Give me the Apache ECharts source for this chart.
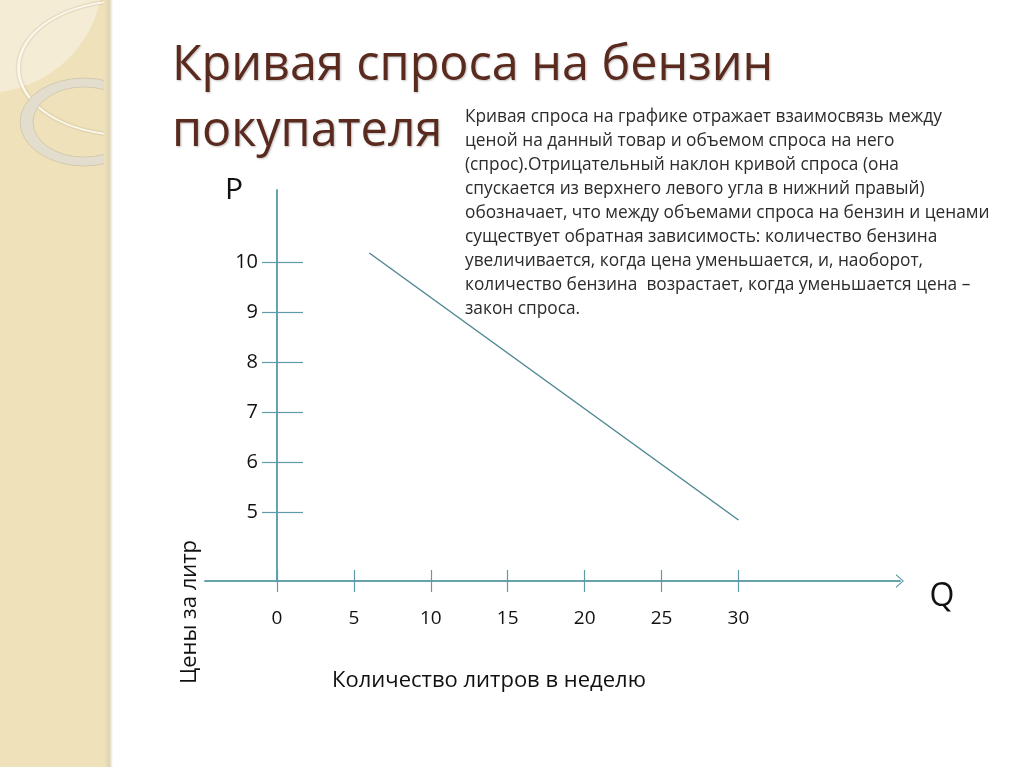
<!DOCTYPE html>
<html><head><meta charset="utf-8">
<script src="https://cdn.jsdelivr.net/npm/echarts@6/dist/echarts.min.js"></script>
<style>html,body{margin:0;padding:0;background:#fff}#c{width:1024px;height:767px}</style>
</head><body><div id="c"></div>
<script>
// ---- data ----
const qTicks = [0, 5, 10, 15, 20, 25, 30];          // quantity tick labels
const pTicks = [5, 6, 7, 8, 9, 10];                 // price tick labels
const demandQ = [6, 30];                            // demand curve, quantity
const demandP = [10.18, 4.84];                      // demand curve, price
const titleText = 'Кривая спроса на бензин\nпокупателя';
const paraLines = [
  'Кривая спроса на графике отражает взаимосвязь между',
  'ценой на данный товар и объемом спроса на него',
  '(спрос).Отрицательный наклон кривой спроса (она',
  'спускается из верхнего левого угла в нижний правый)',
  'обозначает, что между объемами спроса на бензин и ценами',
  'существует обратная зависимость: количество бензина',
  'увеличивается, когда цена уменьшается, и, наоборот,',
  'количество бензина  возрастает, когда уменьшается цена –',
  'закон спроса.'
];
const yName = 'Цены за литр';
const xName = 'Количество литров в неделю';

// ---- chart ----
const axisColor = '#5d9ca8';
const font = '"Open Sans", "Noto Sans", sans-serif';
const chevron = 'path://M0,8 L7,0 L14,8 L12.6,8 L7,1.6 L1.4,8 Z';
const chart = echarts.init(document.getElementById('c'));
const xCommon = { type: 'value', min: -4.68, max: 40.5, position: 'bottom', splitLine: { show: false } };
const yCommon = { type: 'value', min: 3.62, max: 11.44, position: 'left', offset: -72, splitLine: { show: false } };

chart.setOption({
  backgroundColor: '#ffffff',
  animation: false,
  grid: { left: 205, right: 124, top: 190, bottom: 186 },
  title: {
    text: titleText, left: 167, top: 28,
    textStyle: { fontFamily: font, fontSize: 48.5, fontWeight: 'normal', color: '#5a2a1f', lineHeight: 66,
      textShadowColor: 'rgba(0,0,0,0.25)', textShadowBlur: 2, textShadowOffsetX: 1, textShadowOffsetY: 1 }
  },
  xAxis: [
    Object.assign({}, xCommon, {
      axisLine: { show: true, onZero: false, lineStyle: { color: axisColor, width: 1.5 }, symbol: ['none', chevron], symbolSize: [14, 9] },
      axisTick: { show: true, customValues: qTicks, inside: false, length: 11, lineStyle: { color: axisColor, width: 1.2 } },
      axisLabel: { show: true, customValues: qTicks, margin: 28, fontFamily: font, fontSize: 19, color: '#111' }
    }),
    Object.assign({}, xCommon, {
      axisLine: { show: true, onZero: false, lineStyle: { color: axisColor, width: 1.5 } },
      axisTick: { show: true, customValues: qTicks, inside: true, length: 11, lineStyle: { color: axisColor, width: 1.2 } },
      axisLabel: { show: false }
    })
  ],
  yAxis: [
    Object.assign({}, yCommon, {
      name: 'P', nameLocation: 'end', nameGap: 0,
      nameTextStyle: { fontFamily: font, fontSize: 30, color: '#111', align: 'right', verticalAlign: 'middle', padding: [0, 34, 0, 0] },
      axisLine: { show: true, onZero: false, lineStyle: { color: axisColor, width: 1.5 } },
      axisTick: { show: true, customValues: pTicks, inside: false, length: 15, lineStyle: { color: axisColor, width: 1.2 } },
      axisLabel: { show: true, customValues: pTicks, margin: 19, fontFamily: font, fontSize: 20, color: '#111' }
    }),
    Object.assign({}, yCommon, {
      axisLine: { show: true, onZero: false, lineStyle: { color: axisColor, width: 1.5 } },
      axisTick: { show: true, customValues: pTicks, inside: true, length: 26, lineStyle: { color: axisColor, width: 1.2 } },
      axisLabel: { show: false }
    })
  ],
  series: [{
    type: 'line', xAxisIndex: 0, yAxisIndex: 0,
    data: demandQ.map((q, i) => [q, demandP[i]]),
    showSymbol: false, symbol: 'none',
    lineStyle: { color: '#4f8893', width: 1.5 }
  }],
  graphic: [
    { type: 'rect', z: -100, shape: { x: 0, y: 0, width: 110, height: 767 }, style: { fill: '#efe2ba' } },
    { type: 'circle', z: -100, shape: { cx: -15, cy: -25, r: 118 }, style: { fill: '#f4ecd5' } },
    { type: 'ring', z: -100, x: 125, y: 68, scaleY: 68 / 108, shape: { cx: 0, cy: 0, r: 108, r0: 105 },
      style: { fill: '#fbf7ea', shadowColor: 'rgba(120,100,60,0.45)', shadowBlur: 2 } },
    { type: 'ring', z: -100, x: 84, y: 122, scaleY: 44 / 64, shape: { cx: 0, cy: 0, r: 64, r0: 51 },
      style: { fill: '#e2ddcc', stroke: '#c9bfa4', lineWidth: 0.8 } },
    { type: 'rect', z: -100, shape: { x: 110, y: 0, width: 914, height: 767 }, style: { fill: '#ffffff' } },
    { type: 'rect', z: -100, shape: { x: 104, y: 0, width: 9, height: 767 },
      style: { fill: { type: 'linear', x: 0, y: 0, x2: 1, y2: 0, colorStops: [
        { offset: 0, color: '#efe2ba' }, { offset: 0.6, color: '#ded3b4' }, { offset: 1, color: '#ffffff' } ] } } },
    { type: 'text', z: 100, left: 465, top: 105,
      style: { text: paraLines.join('\n'), font: '17.3px ' + font, fill: '#2b2b2b', lineHeight: 24 } },
    { type: 'text', z: 100, x: 942, y: 597,
      style: { text: 'Q', font: '32px ' + font, fill: '#111', align: 'center', verticalAlign: 'middle' } },
    { type: 'text', z: 100, x: 190, y: 612, rotation: Math.PI / 2,
      style: { text: yName, font: '22px ' + font, fill: '#111', align: 'center', verticalAlign: 'middle' } },
    { type: 'text', z: 100, x: 489, y: 681,
      style: { text: xName, font: '22px ' + font, fill: '#111', align: 'center', verticalAlign: 'middle' } }
  ]
});
</script></body></html>
